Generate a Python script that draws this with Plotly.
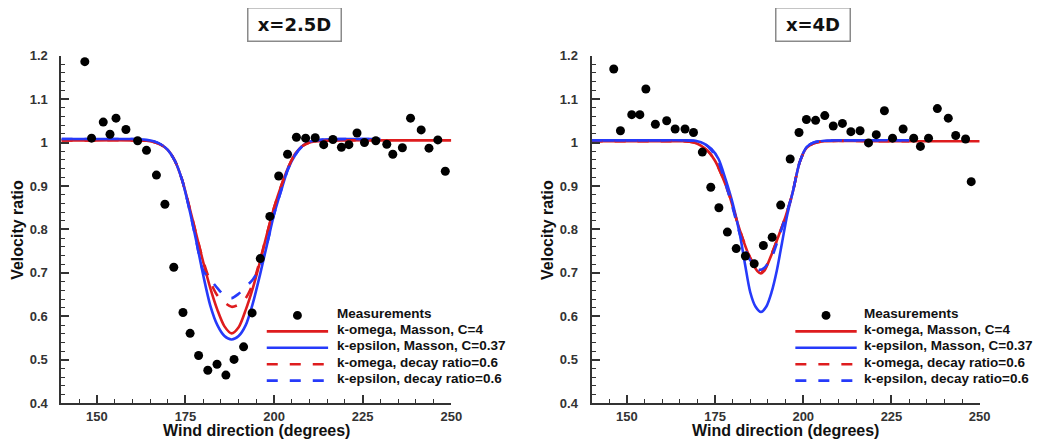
import plotly.graph_objects as go

# ---------------- data ----------------
# Left panel: x = 2.5D
meas_x_L = [146.6, 148.5, 151.8, 153.7, 155.4, 158.2, 161.5, 164.0, 166.8, 169.2,
            171.7, 174.3, 176.3, 178.7, 181.3, 183.9, 186.4, 188.7, 191.4, 193.8,
            196.1, 198.8, 201.3, 203.8, 206.3, 208.9, 211.6, 214.0, 216.6, 219.0,
            221.1, 223.4, 225.5, 228.7, 231.8, 233.5, 236.2, 238.5, 241.5, 243.7,
            246.2, 248.3]
meas_y_L = [1.186, 1.010, 1.047, 1.019, 1.056, 1.030, 1.004, 0.982, 0.925, 0.858,
            0.713, 0.609, 0.561, 0.510, 0.476, 0.490, 0.465, 0.501, 0.530, 0.608,
            0.733, 0.830, 0.923, 0.973, 1.012, 1.010, 1.011, 0.995, 1.007, 0.989,
            0.995, 1.022, 1.000, 1.004, 0.996, 0.973, 0.988, 1.056, 1.029, 0.987,
            1.006, 0.934]

kom_x_L = [140, 150, 160, 164, 166, 168, 170, 172, 174, 176, 178, 180, 182, 184, 186,
           188, 190, 192, 194, 196, 198, 200, 202, 204, 206, 208, 210, 214, 220, 230,
           240, 250]
kom_y_L = [1.005, 1.005, 1.005, 1.004, 1.001, 0.995, 0.983, 0.958, 0.915, 0.855,
           0.790, 0.725, 0.665, 0.615, 0.577, 0.561, 0.575, 0.615, 0.665, 0.725,
           0.790, 0.850, 0.900, 0.943, 0.975, 0.992, 1.000, 1.004, 1.005, 1.005,
           1.005, 1.005]

kep_x_L = [140, 150, 160, 164, 166, 168, 170, 172, 174, 176, 178, 180, 182, 184, 186,
           188, 190, 192, 194, 196, 198, 200, 202, 204, 206, 208, 210, 214, 220, 230]
kep_y_L = [1.008, 1.008, 1.008, 1.006, 1.003, 0.996, 0.983, 0.958, 0.915, 0.850,
           0.775, 0.695, 0.625, 0.580, 0.555, 0.547, 0.555, 0.580, 0.630, 0.695,
           0.765, 0.835, 0.890, 0.940, 0.972, 0.992, 1.002, 1.007, 1.008, 1.008]

komd_x_L = [140, 150, 160, 164, 166, 168, 170, 172, 174, 176, 178, 180, 182, 184, 186,
            188, 190, 192, 194, 196, 198, 200, 202, 204, 206, 208, 210, 214, 220, 230]
komd_y_L = [1.005, 1.005, 1.005, 1.004, 1.001, 0.995, 0.983, 0.958, 0.915, 0.855,
            0.790, 0.728, 0.680, 0.648, 0.632, 0.622, 0.627, 0.642, 0.675, 0.728,
            0.790, 0.850, 0.900, 0.943, 0.975, 0.992, 1.000, 1.004, 1.005, 1.005]

kepd_x_L = [140, 150, 160, 164, 166, 168, 170, 172, 174, 176, 178, 180, 182, 184, 186,
            188, 190, 192, 194, 196, 198, 200, 202, 204, 206, 208, 210, 214, 220, 230]
kepd_y_L = [1.008, 1.008, 1.008, 1.006, 1.003, 0.996, 0.983, 0.958, 0.915, 0.850,
            0.775, 0.705, 0.685, 0.665, 0.648, 0.642, 0.652, 0.668, 0.685, 0.712,
            0.767, 0.835, 0.890, 0.940, 0.972, 0.992, 1.002, 1.007, 1.008, 1.008]

# Right panel: x = 4D
meas_x_R = [146.3, 148.2, 151.4, 153.7, 155.4, 158.1, 161.3, 163.7, 166.5, 168.9,
            171.4, 173.8, 176.1, 178.5, 181.0, 183.6, 186.1, 188.7, 191.2, 193.6,
            196.3, 198.8, 200.9, 203.5, 206.1, 208.5, 211.1, 213.5, 216.1, 218.5,
            220.7, 223.0, 225.3, 228.3, 231.3, 233.2, 235.5, 238.0, 241.1, 243.2,
            246.0, 247.6]
meas_y_R = [1.169, 1.027, 1.064, 1.064, 1.123, 1.042, 1.050, 1.031, 1.031, 1.023,
            0.978, 0.897, 0.850, 0.794, 0.756, 0.739, 0.721, 0.763, 0.782, 0.856,
            0.962, 1.023, 1.053, 1.051, 1.062, 1.038, 1.044, 1.025, 1.027, 0.999,
            1.018, 1.073, 1.010, 1.031, 1.010, 0.991, 1.010, 1.078, 1.056, 1.016,
            1.008, 0.910]

kom_x_R = [140, 150, 160, 166, 169, 171, 173, 175, 177, 179, 181, 183, 185, 187, 188,
           189, 191, 193, 195, 197, 199, 201, 203, 206, 220, 230, 240, 250]
kom_y_R = [1.003, 1.003, 1.003, 1.003, 1.000, 0.993, 0.980, 0.958, 0.923, 0.880,
           0.825, 0.775, 0.733, 0.704, 0.699, 0.705, 0.742, 0.785, 0.830, 0.885,
           0.955, 0.988, 0.998, 1.003, 1.003, 1.003, 1.003, 1.003]

kep_x_R = [140, 150, 160, 166, 170, 172, 174, 176, 178, 180, 182, 183.5, 185, 186.5,
           188, 189.5, 191, 192.5, 194, 195.5, 197, 199, 201, 203, 206, 215, 230]
kep_y_R = [1.005, 1.005, 1.005, 1.005, 1.003, 0.997, 0.985, 0.962, 0.915, 0.860,
           0.790, 0.720, 0.655, 0.622, 0.610, 0.622, 0.655, 0.705, 0.770, 0.835,
           0.885, 0.955, 0.990, 1.000, 1.004, 1.005, 1.005]

komd_x_R = [140, 150, 160, 166, 169, 171, 173, 175, 177, 179, 181, 183, 185, 187, 188,
            189, 191, 193, 195, 197, 199, 201, 203, 206, 220, 230]
komd_y_R = [1.003, 1.003, 1.003, 1.003, 1.000, 0.993, 0.980, 0.958, 0.923, 0.880,
            0.825, 0.776, 0.735, 0.707, 0.702, 0.708, 0.743, 0.785, 0.830, 0.885,
            0.955, 0.988, 0.998, 1.003, 1.003, 1.003]

kepd_x_R = [140, 150, 160, 166, 170, 172, 174, 176, 178, 180, 182, 184, 186, 187.5,
            189, 191, 193, 195, 197, 199, 201, 203, 206, 215, 230]
kepd_y_R = [1.005, 1.005, 1.005, 1.005, 1.003, 0.997, 0.982, 0.955, 0.905, 0.850,
            0.790, 0.745, 0.715, 0.707, 0.712, 0.735, 0.780, 0.830, 0.885, 0.955,
            0.990, 1.000, 1.004, 1.005, 1.005]

x_tickvals = [150, 175, 200, 225, 250]
x_ticktext = ["150", "175", "200", "225", "250"]
y_tickvals = [0.4, 0.5, 0.6, 0.7, 0.8, 0.9, 1.0, 1.1, 1.2]
y_ticktext = ["0.4", "0.5", "0.6", "0.7", "0.8", "0.9", "1", "1.1", "1.2"]

panel_titles = ["x=2.5D", "x=4D"]
series_names = ["Measurements", "k-omega, Masson, C=4", "k-epsilon, Masson, C=0.37",
                "k-omega, decay ratio=0.6", "k-epsilon, decay ratio=0.6"]
x_title = "Wind direction (degrees)"
y_title = "Velocity ratio"

# ---------------- style ----------------
RED = "rgb(222,28,30)"
BLUE = "rgb(38,58,250)"
FONT = "Liberation Sans"
TITLE_FONT = "DejaVu Sans"
AX = "#333333"
TXT = "#111111"
W, H = 1048, 441
DASH = "11px,12px"

# series styles: (colour, dash) in legend order (after the markers)
line_styles = [(RED, "solid"), (BLUE, "solid"), (RED, DASH), (BLUE, DASH)]

# panel geometry in pixels
PLOT_TOP, PLOT_BOT = 42, 402
panels_px = [
    dict(left=54, right=448, title_cx=290, title_w=92, leg_left=261.5, leg_text=330),
    dict(left=589.7, right=982, title_cx=814, title_w=73, leg_left=795.7, leg_text=863),
]
LEG_ROWS = [309, 325.5, 342.5, 359.5, 376.5]
LEG_SAMPLE_W = 62
TITLE_Y = 10
XTITLE_Y = 430.5
YTITLE_OFF = 44.5


def px_x(p):
    return p / W


def px_y(p):
    return 1 - p / H


fig = go.Figure()

panel_data = [
    dict(xa="x", ya="y",
         meas=(meas_x_L, meas_y_L),
         lines=[(kom_x_L, kom_y_L), (kep_x_L, kep_y_L), (komd_x_L, komd_y_L), (kepd_x_L, kepd_y_L)]),
    dict(xa="x2", ya="y2",
         meas=(meas_x_R, meas_y_R),
         lines=[(kom_x_R, kom_y_R), (kep_x_R, kep_y_R), (komd_x_R, komd_y_R), (kepd_x_R, kepd_y_R)]),
]

for pd_ in panel_data:
    for (xs, ys), name, (col, dash) in zip(pd_["lines"], series_names[1:], line_styles):
        fig.add_trace(go.Scatter(
            x=xs, y=ys, mode="lines", name=name, showlegend=False,
            xaxis=pd_["xa"], yaxis=pd_["ya"],
            line=dict(color=col, width=2.6, dash=dash, shape="spline", smoothing=0.8)))
    xs, ys = pd_["meas"]
    fig.add_trace(go.Scatter(
        x=xs, y=ys, mode="markers", name=series_names[0], showlegend=False,
        xaxis=pd_["xa"], yaxis=pd_["ya"],
        marker=dict(color="black", size=9, symbol="circle")))

ydom = [px_y(PLOT_BOT), px_y(PLOT_TOP)]

tickfont = dict(family=FONT, size=13, color=AX, weight="bold")
titlefont = dict(family=FONT, size=16, color=TXT, weight="bold")


def xaxis_cfg(p, anchor):
    return dict(domain=[px_x(p["left"]), px_x(p["right"])], anchor=anchor, range=[140, 250],
                showgrid=False, zeroline=False, showline=True, linecolor=AX, linewidth=2,
                ticks="inside", ticklen=8, tickwidth=1.5, tickcolor=AX,
                tickvals=x_tickvals, ticktext=x_ticktext, tickfont=tickfont,
                minor=dict(ticks="inside", ticklen=4, tickwidth=1.2, tickcolor=AX,
                           dtick=5, tick0=140, showgrid=False))


def yaxis_cfg(anchor):
    return dict(domain=ydom, anchor=anchor, range=[0.4, 1.2], showgrid=False,
                zeroline=False, showline=True, linecolor=AX, linewidth=2,
                ticks="inside", ticklen=8, tickwidth=1.5, tickcolor=AX,
                tickvals=y_tickvals, ticktext=y_ticktext, tickfont=tickfont,
                ticklabelstandoff=9,
                minor=dict(ticks="inside", ticklen=4, tickwidth=1.2, tickcolor=AX,
                           dtick=0.02, tick0=0.4, showgrid=False))


annotations = []
shapes = []
for p, ttl in zip(panels_px, panel_titles):
    cx = (p["left"] + p["right"]) / 2
    # panel title box
    annotations.append(dict(
        text=ttl, xref="paper", yref="paper", x=px_x(p["title_cx"]), y=px_y(TITLE_Y),
        xanchor="center", yanchor="middle", showarrow=False,
        width=p["title_w"], height=32, borderpad=0,
        font=dict(family=TITLE_FONT, size=18, color=TXT, weight="bold"),
        bordercolor="#8a8a8a", borderwidth=1.5, bgcolor="white"))
    # axis titles
    annotations.append(dict(
        text=x_title, xref="paper", yref="paper", x=px_x(cx), y=px_y(XTITLE_Y),
        xanchor="center", yanchor="middle", showarrow=False, font=titlefont))
    annotations.append(dict(
        text=y_title, xref="paper", yref="paper", x=px_x(p["left"] - YTITLE_OFF), y=px_y(222),
        xanchor="center", yanchor="middle", showarrow=False, textangle=-90, font=titlefont))
    # legend
    for i, name in enumerate(series_names):
        ry = LEG_ROWS[i]
        annotations.append(dict(
            text=name, xref="paper", yref="paper", x=px_x(p["leg_text"]), y=px_y(ry),
            xanchor="left", yanchor="middle", showarrow=False,
            font=dict(family=FONT, size=13.5, color=TXT, weight="bold")))
        sy = ry + 2
        if i == 0:
            mx = p["leg_left"] + LEG_SAMPLE_W / 2
            shapes.append(dict(type="circle", xref="paper", yref="paper",
                               x0=px_x(mx - 4.5), x1=px_x(mx + 4.5),
                               y0=px_y(sy + 4.5), y1=px_y(sy - 4.5),
                               fillcolor="black", line=dict(width=0)))
        else:
            col, dash = line_styles[i - 1]
            shapes.append(dict(type="line", xref="paper", yref="paper",
                               x0=px_x(p["leg_left"]), x1=px_x(p["leg_left"] + LEG_SAMPLE_W),
                               y0=px_y(sy), y1=px_y(sy),
                               line=dict(color=col, width=2.6, dash=dash)))

fig.update_layout(
    width=W, height=H,
    margin=dict(l=0, r=0, t=0, b=0),
    paper_bgcolor="white", plot_bgcolor="white",
    xaxis=xaxis_cfg(panels_px[0], "y"),
    yaxis=yaxis_cfg("x"),
    xaxis2=xaxis_cfg(panels_px[1], "y2"),
    yaxis2=yaxis_cfg("x2"),
    annotations=annotations,
    shapes=shapes,
    showlegend=False,
)

fig.write_html("out.html")
